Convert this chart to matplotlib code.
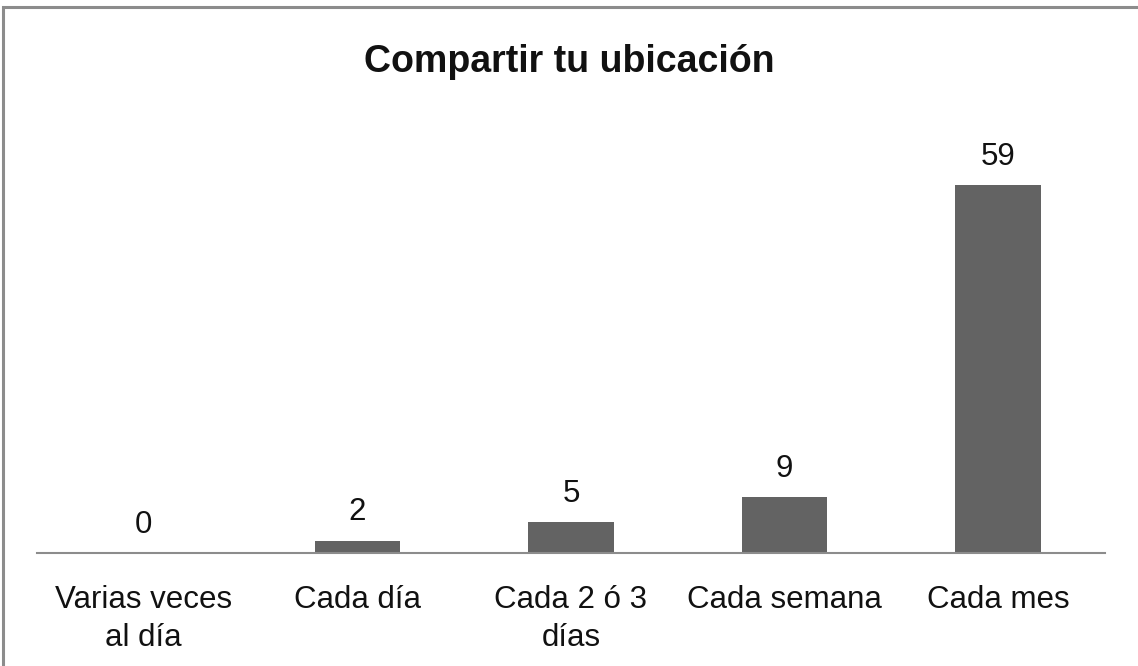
import matplotlib
matplotlib.use("Agg")
import matplotlib.pyplot as plt
from matplotlib.patches import Rectangle

categories = ["Varias veces\nal día", "Cada día", "Cada 2 ó 3\ndías", "Cada semana", "Cada mes"]
values = [0, 2, 5, 9, 59]

plt.rcParams['font.family'] = ['Liberation Sans', 'DejaVu Sans']

fig = plt.figure(figsize=(11.38, 6.66), dpi=100)
ax = fig.add_axes([37 / 1138, 113 / 666, 1068 / 1138, 412 / 666])

x = list(range(len(categories)))
bars = ax.bar(x, values, width=0.40, color="#636363", zorder=2)

for xi, v in zip(x, values):
    ax.annotate(str(v), (xi, v), xytext=(0, 14.5), textcoords="offset points",
                ha="center", va="baseline", fontsize=22.5, color="#111111")

ax.set_xlim(-0.5, 4.5)
ax.set_ylim(0, 66)
ax.set_xticks(x)
ax.set_xticklabels(categories, fontsize=22.5, color="#111111", linespacing=1.35)
ax.tick_params(axis="x", length=0, pad=23)
ax.set_yticks([])
for side in ["left", "right", "top"]:
    ax.spines[side].set_visible(False)
ax.spines["bottom"].set_color("#8c8c8c")
ax.spines["bottom"].set_linewidth(1.5)

fig.text(0.5, 1 - 72 / 666, "Compartir tu ubicación", ha="center", va="baseline",
         fontsize=27, fontweight="bold", color="#111111")

# outer border of the chart
fig.patches.append(Rectangle((2.5 / 1138, -0.05), 1.2, 1 - 6.5 / 666 + 0.05,
                             transform=fig.transFigure, fill=False,
                             edgecolor="#8c8c8c", linewidth=2.2))

fig.savefig("out.png", dpi=100)
